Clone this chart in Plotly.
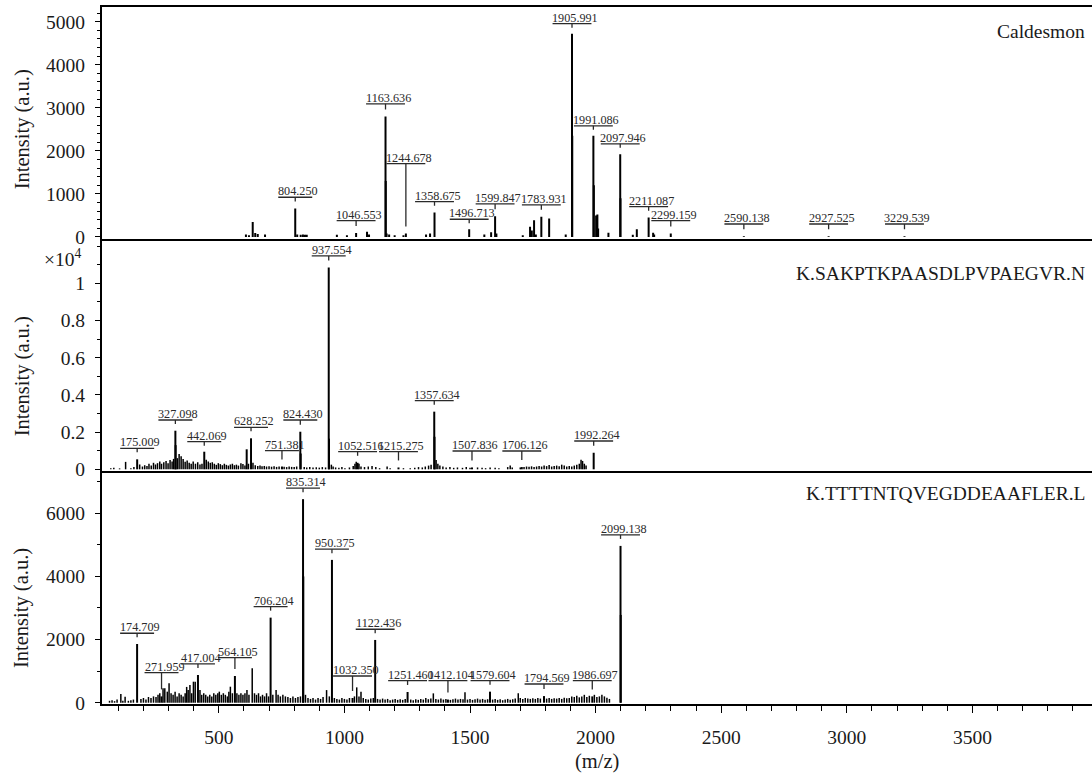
import plotly.graph_objects as go

# ================= DATA =================
# --- Panel 1: Caldesmon (stick spectrum) ---
cald_mz = [608, 620, 635, 645, 655, 684, 804.250, 812, 826, 835, 843, 850, 970, 1010,
           1046.553, 1090, 1098, 1163.636, 1164.6, 1168, 1178, 1200, 1235, 1244.678,
           1325, 1341, 1358.675, 1496.713, 1557, 1584, 1599.847, 1605, 1710, 1739, 1746,
           1755, 1762, 1783.931, 1815, 1881, 1905.991, 1907.0, 1991.086, 1993, 2002, 2007,
           2010, 2051, 2097.946, 2099, 2148, 2164, 2211.087, 2229, 2233, 2299.159,
           2590.138, 2927.525, 3229.539]
cald_int = [60, 40, 350, 90, 70, 60, 660, 60, 50, 60, 55, 50, 50, 40,
            90, 120, 60, 2800, 1300, 80, 60, 40, 40, 80,
            60, 80, 570, 180, 60, 110, 480, 80, 40, 240, 150,
            390, 60, 470, 430, 60, 4720, 2350, 2350, 1200, 500, 520,
            200, 100, 1920, 900, 50, 180, 450, 100, 60, 80,
            15, 15, 15]
cald_labels = ["804.250", "1046.553", "1163.636", "1244.678", "1358.675", "1496.713",
               "1599.847", "1783.931", "1905.991", "1991.086", "2097.946", "2211.087",
               "2299.159", "2590.138", "2927.525", "3229.539"]
cald_label_level = [923, 380, 3093, 1705, 821, 412, 767, 744, 4953, 2581, 2163, 705,
                    380, 302, 302, 302]

# --- Panel 2: K.SAKPTKPAASDLPVPAEGVR.N ---
sak_mz = [175.009, 327.098, 328.1, 442.069, 611, 628.252, 751.381, 824.430, 826.0,
          937.554, 938.6, 1052.516, 1215.275, 1357.634, 1358.6, 1507.836, 1706.126, 1992.264]
sak_int = [537, 2075, 1300, 946, 1075, 1667, 150, 2021, 850,
           10850, 1650, 350, 100, 3100, 1750, 100, 120, 890]
sak_noise_mz = [70, 82, 105, 129, 150, 162, 185, 196, 205, 214, 222, 231, 240, 248, 256,
                265, 272, 281, 290, 298, 306, 314, 320, 335, 342, 350, 358, 366, 374, 382,
                390, 398, 407, 416, 425, 433, 450, 458, 466, 474, 482, 490, 498, 506, 514,
                522, 530, 538, 546, 554, 562, 570, 578, 588, 596, 604, 618, 636, 645, 655,
                664, 672, 681, 690, 700, 710, 720, 730, 740, 760, 770, 780, 790, 800, 810,
                840, 850, 862, 875, 888, 900, 912, 925, 948, 955, 965, 978, 990, 1002, 1020,
                1035, 1042, 1047, 1058, 1066, 1080, 1095, 1110, 1125, 1140, 1170, 1182, 1235,
                1262, 1280, 1295, 1310, 1322, 1335, 1345, 1365, 1372, 1380, 1392, 1405, 1420,
                1435, 1450, 1470, 1485, 1500, 1530, 1548, 1562, 1580, 1600, 1615, 1650, 1660,
                1668, 1700, 1715, 1725, 1735, 1745, 1755, 1765, 1775, 1785, 1795, 1805, 1815,
                1825, 1835, 1845, 1855, 1865, 1875, 1885, 1895, 1905, 1915, 1925, 1935, 1942,
                1948, 1955, 1962]
sak_noise_int = [60, 80, 50, 400, 60, 120, 260, 150, 220, 180, 300, 200, 350, 260, 330,
                 420, 300, 380, 450, 330, 500, 420, 560, 600, 820, 700, 560, 400, 480, 350,
                 300, 420, 300, 380, 260, 300, 520, 420, 350, 380, 300, 240, 330, 280, 220,
                 300, 240, 200, 260, 300, 220, 250, 200, 320, 280, 200, 300, 350, 220, 180,
                 200, 160, 180, 150, 170, 140, 160, 130, 150, 140, 120, 150, 130, 120, 150,
                 120, 100, 120, 100, 110, 90, 120, 100, 250, 150, 100, 80, 120, 60, 100,
                 180, 300, 400, 300, 150, 120, 150, 180, 120, 60, 150, 60, 60,
                 60, 80, 120, 100, 150, 200, 250, 500, 300, 200, 150, 100, 120,
                 80, 100, 80, 120, 80, 100, 80, 60, 100, 80, 60, 120, 200,
                 100, 100, 130, 150, 140, 160, 130, 150, 180, 150, 200, 170, 230,
                 150, 180, 200, 160, 250, 200, 150, 180, 150, 200, 250, 300, 520,
                 450, 300, 200]
sak_labels = ["175.009", "327.098", "442.069", "628.252", "751.381", "824.430", "937.554",
              "1052.516", "1215.275", "1357.634", "1507.836", "1706.126", "1992.264"]
sak_label_level = [1129, 2650, 1484, 2258, 1000, 2650, 11470, 946, 946, 3688, 984, 984, 1521]

# --- Panel 3: K.TTTTNTQVEGDDEAAFLER.L ---
ttt_mz = [174.709, 271.959, 417.004, 564.105, 706.204, 835.314, 836.3, 950.375, 1032.350,
          1122.436, 1251.460, 1412.104, 1579.604, 1794.569, 1986.697, 2099.138, 2100.1]
ttt_int = [1860, 200, 878, 846, 2695, 6448, 4000, 4524, 150,
           1988, 340, 100, 350, 210, 200, 4967, 2780]
ttt_noise_mz = [65, 75, 85, 95, 110, 118, 127, 140, 150, 160, 190, 200, 210, 220, 230, 240,
                250, 258, 265, 278, 285, 295, 302, 310, 318, 326, 334, 342, 350, 358, 366,
                372, 378, 385, 392, 399, 406, 425, 432, 440, 448, 456, 464, 472, 480, 488,
                496, 502, 510, 518, 526, 534, 540, 546, 554, 572, 580, 588, 596, 604, 612,
                620, 633, 642, 650, 658, 666, 674, 682, 690, 698, 715, 728, 736, 745, 755,
                765, 775, 785, 795, 805, 815, 825, 845, 855, 865, 875, 885, 895, 905, 915,
                929, 940, 960, 970, 980, 990, 1000, 1010, 1020, 1040, 1049, 1058, 1066, 1075,
                1085, 1095, 1105, 1115, 1132, 1142, 1152, 1162, 1172, 1182, 1192, 1202, 1212,
                1222, 1232, 1242, 1264, 1274, 1284, 1294, 1304, 1314, 1324, 1334, 1344, 1354,
                1364, 1374, 1384, 1394, 1404, 1422, 1432, 1442, 1452, 1462, 1472, 1480, 1490,
                1500, 1510, 1520, 1530, 1540, 1550, 1560, 1570, 1590, 1600, 1610, 1620, 1630,
                1640, 1650, 1660, 1670, 1680, 1692, 1700, 1710, 1720, 1730, 1740, 1750, 1760,
                1770, 1780, 1805, 1815, 1825, 1835, 1845, 1855, 1865, 1875, 1885, 1895, 1905,
                1915, 1925, 1935, 1945, 1955, 1965, 1975, 1995, 2005, 2015, 2025, 2035, 2045,
                2055]
ttt_noise_int = [60, 80, 50, 100, 275, 60, 190, 60, 80, 100, 120, 150, 100, 180, 150, 200,
                 180, 250, 300, 454, 454, 350, 613, 300, 250, 350, 200, 300, 250, 200, 300,
                 500, 400, 560, 300, 666, 666, 400, 250, 300, 250, 200, 250, 200, 300, 250,
                 300, 350, 250, 300, 250, 200, 350, 507, 300, 300, 250, 300, 250, 300, 400,
                 250, 1089, 300, 250, 300, 200, 250, 200, 300, 200, 250, 400, 250, 200, 250,
                 200, 180, 150, 200, 150, 180, 200, 250, 150, 120, 150, 100, 150, 120, 180,
                 400, 200, 150, 120, 100, 150, 120, 100, 150, 200, 486, 200, 350, 150,
                 120, 100, 130, 150, 120, 100, 130, 100, 120, 80, 100, 120, 90,
                 110, 90, 120, 100, 80, 110, 90, 120, 100, 150, 110, 130, 296,
                 120, 100, 130, 100, 120, 90, 110, 130, 100, 120, 110, 328, 100,
                 120, 90, 110, 130, 100, 120, 90, 110, 100, 120, 90, 110, 80,
                 100, 120, 90, 110, 130, 296, 150, 120, 150, 130, 120, 140, 120,
                 150, 130, 130, 150, 120, 140, 130, 150, 120, 160, 140, 150, 200,
                 180, 220, 170, 200, 250, 180, 220, 250, 180, 200, 250, 200, 160,
                 120]
ttt_labels = ["174.709", "271.959", "417.004", "564.105", "706.204", "835.314", "950.375",
              "1032.350", "1122.436", "1251.460", "1412.104", "1579.604", "1794.569",
              "1986.697", "2099.138"]
ttt_label_level = [2200, 951, 1227, 1427, 3043, 6796, 4863, 846, 2327, 697, 697, 697, 593,
                   697, 5316]

panel_titles = ["Caldesmon", "K.SAKPTKPAASDLPVPAEGVR.N", "K.TTTTNTQVEGDDEAAFLER.L"]
x_ticks = [500, 1000, 1500, 2000, 2500, 3000, 3500]
y1_ticks = [0, 1000, 2000, 3000, 4000, 5000]
y2_ticks = [0, 2000, 4000, 6000, 8000, 10000]
y2_ticktext = ["0", "0.2", "0.4", "0.6", "0.8", "1"]
y3_ticks = [0, 2000, 4000, 6000]

# ================= LAYOUT CONSTANTS =================
W, H = 1092, 775
ML, MR, MT, MB = 102, 0, 7, 71
PLOT_H = H - MT - MB
X_RANGE = [35, 3976]
Y_RANGES = [[-35, 5341], [-91, 12409], [-41, 7340]]
DOMAINS = [[0.66786, 1.0], [0.33429, 0.66786], [0.0, 0.33429]]
FONT = "Liberation Serif"
INK = "#1a1a1a"


def sticks(mz, inten):
    xs, ys = [], []
    for m, v in zip(mz, inten):
        xs += [m, m, None]
        ys += [0, v, None]
    return xs, ys


fig = go.Figure()

panels = [
    (cald_mz, cald_int, [], [], cald_labels, cald_label_level),
    (sak_mz, sak_int, sak_noise_mz, sak_noise_int, sak_labels, sak_label_level),
    (ttt_mz, ttt_int, ttt_noise_mz, ttt_noise_int, ttt_labels, ttt_label_level),
]

for i, (mz, inten, nmz, nint, labels, levels) in enumerate(panels):
    xa = "x" if i == 0 else f"x{i+1}"
    ya = "y" if i == 0 else f"y{i+1}"
    dom = DOMAINS[i]
    panel_px = (dom[1] - dom[0]) * PLOT_H
    upp = (Y_RANGES[i][1] - Y_RANGES[i][0]) / panel_px  # units per pixel
    if nmz:
        nx, ny = sticks(nmz, nint)
        fig.add_trace(go.Scatter(x=nx, y=ny, mode="lines", xaxis=xa, yaxis=ya,
                                 line=dict(color="black", width=1.5), hoverinfo="skip"))
    px_, py_ = sticks(mz, inten)
    fig.add_trace(go.Scatter(x=px_, y=py_, mode="lines", xaxis=xa, yaxis=ya,
                             line=dict(color="black", width=2), hoverinfo="skip"))
    all_mz = list(mz) + list(nmz)
    all_int = list(inten) + list(nint)
    bx, by, lx, ly = [], [], [], []
    for txt, lev in zip(labels, levels):
        c = float(txt)
        near = [v for m, v in zip(all_mz, all_int) if abs(m - c) <= 1.5]
        peak = max(near) if near else 0
        half = (19.6 * len(txt) - 2) / 2
        bx += [c - half, c + half, None]
        by += [lev, lev, None]
        end = min(lev - 4 * upp, peak + 7 * upp)
        lx += [c, c, None]
        ly += [lev, end, None]
        fig.add_annotation(x=c, y=lev, xref=xa, yref=ya, text=txt, showarrow=False,
                           xanchor="center", yanchor="bottom", xshift=3, yshift=-3,
                           font=dict(family=FONT, size=12.2, color="#2a2a2a"))
    fig.add_trace(go.Scatter(x=bx, y=by, mode="lines", xaxis=xa, yaxis=ya,
                             line=dict(color="#2a2a2a", width=1.3), hoverinfo="skip"))
    fig.add_trace(go.Scatter(x=lx, y=ly, mode="lines", xaxis=xa, yaxis=ya,
                             line=dict(color="#2a2a2a", width=1.3), hoverinfo="skip"))

tickfont = dict(family=FONT, size=19.5, color=INK)
common_x = dict(showgrid=False, zeroline=False, showline=True, linecolor="black",
                linewidth=2, range=X_RANGE)
fig.update_layout(
    width=W, height=H, margin=dict(l=ML, r=MR, t=MT, b=MB),
    plot_bgcolor="white", paper_bgcolor="white", showlegend=False,
    xaxis=dict(**common_x, domain=[0, 1], anchor="y", matches="x3", mirror=True,
               showticklabels=False, ticks=""),
    xaxis2=dict(**common_x, domain=[0, 1], anchor="y2", matches="x3",
                showticklabels=False, ticks=""),
    xaxis3=dict(**common_x, domain=[0, 1], anchor="y3", ticks="outside", ticklen=7,
                tickwidth=1.3, tickcolor="black", tickvals=x_ticks, tickfont=tickfont,
                ticklabelstandoff=8,
                minor=dict(dtick=100, tick0=0, ticks="outside", ticklen=5, tickwidth=1.2,
                           tickcolor="black")),
)
common_y = dict(showgrid=False, zeroline=False, showline=True, linecolor="black",
                linewidth=2, ticks="outside", ticklen=5, tickwidth=1.2, tickcolor="black",
                tickfont=tickfont, ticklabelstandoff=6)
fig.update_layout(
    yaxis=dict(**common_y, domain=DOMAINS[0], anchor="x", range=Y_RANGES[0],
               tickvals=y1_ticks,
               minor=dict(dtick=200, tick0=0, ticks="outside", ticklen=3, tickwidth=1,
                          tickcolor="black")),
    yaxis2=dict(**common_y, domain=DOMAINS[1], anchor="x2", range=Y_RANGES[1],
                tickvals=y2_ticks, ticktext=y2_ticktext,
                minor=dict(dtick=1000, tick0=0, ticks="outside", ticklen=3, tickwidth=1,
                           tickcolor="black")),
    yaxis3=dict(**common_y, domain=DOMAINS[2], anchor="x3", range=Y_RANGES[2],
                tickvals=y3_ticks,
                minor=dict(dtick=1000, tick0=0, ticks="outside", ticklen=3, tickwidth=1,
                           tickcolor="black")),
)

title_mid = [2500, 5000, 3000]
for i in range(3):
    ya = "y" if i == 0 else f"y{i+1}"
    fig.add_annotation(x=0, xref="paper", y=title_mid[i], yref=ya, xshift=-80,
                       text="Intensity (a.u.)", textangle=-90, showarrow=False,
                       xanchor="center", yanchor="middle",
                       font=dict(family=FONT, size=20.5, color=INK))

title_y_px = [31.7, 273.3, 493.3]
for t, ypx in zip(panel_titles, title_y_px):
    fig.add_annotation(x=1, xref="paper", y=(H - MB - ypx) / PLOT_H, yref="paper",
                       xshift=-5, text=t, showarrow=False, xanchor="right",
                       yanchor="middle", font=dict(family=FONT, size=19.5, color=INK))

fig.add_annotation(x=0, xref="paper", y=(H - MB - 257.5) / PLOT_H, yref="paper",
                   xshift=-39, text="×10<sup>4</sup>", showarrow=False,
                   xanchor="center", yanchor="middle",
                   font=dict(family=FONT, size=19.5, color=INK))

fig.add_annotation(x=0.5, xref="paper", y=0, yref="paper", yshift=-57,
                   text="(m/z)", showarrow=False, xanchor="center", yanchor="middle",
                   font=dict(family=FONT, size=20.5, color=INK))

fig.write_html("out.html",
               config={"displayModeBar": False},
               post_script="document.body.style.margin='0';"
                           "document.body.style.overflow='hidden';")
